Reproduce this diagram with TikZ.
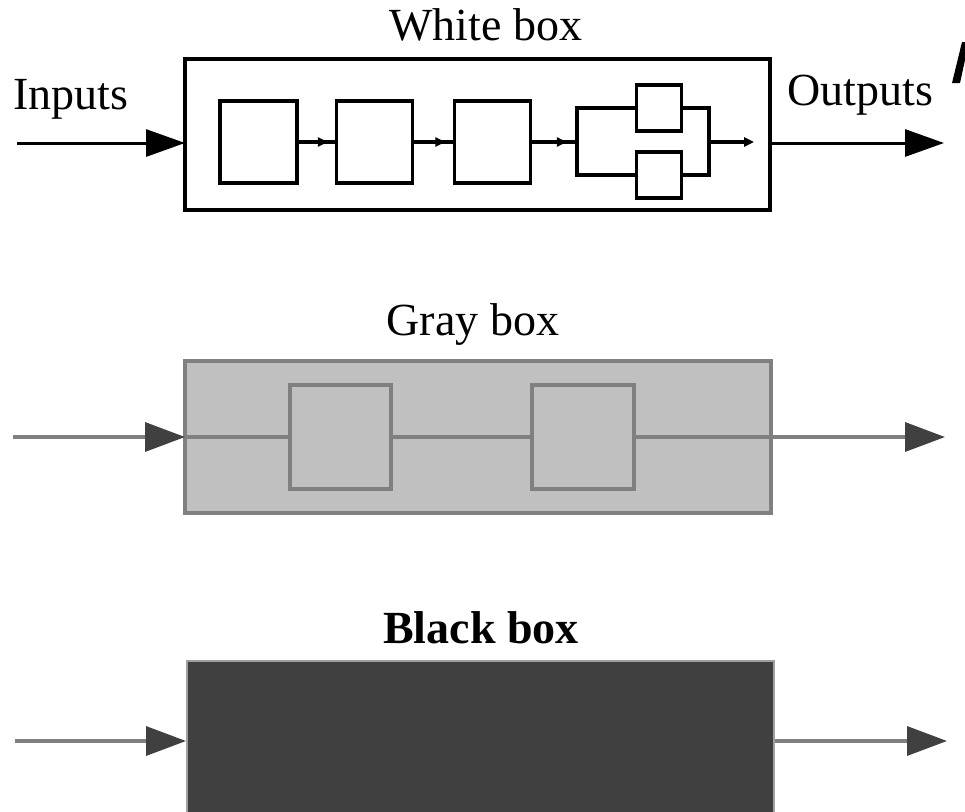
\documentclass[tikz,border=0pt]{standalone}
\usepackage{fontspec}
\setmainfont{Liberation Serif}
\usetikzlibrary{arrows.meta,decorations.markings}
\definecolor{gfill}{HTML}{C0C0C0}
\definecolor{gline}{HTML}{808080}
\definecolor{dhead}{HTML}{404040}
\definecolor{bfill}{HTML}{404040}
\definecolor{bedge}{HTML}{A0A0A0}
\tikzset{
  lbl/.style={font=\fontsize{46}{50}\selectfont, inner sep=0pt, anchor=base},
  wouter/.style={draw=black, line width=4pt, fill=white, inner sep=0pt, outer sep=0pt},
  wblock/.style={draw=black, line width=3.5pt, fill=white, inner sep=0pt, outer sep=0pt},
  wline/.style={draw=black, line width=3.2pt},
  midtip/.style={postaction={decorate}, decoration={markings,
      mark=at position 0.78 with {\arrow{Triangle[length=10pt,width=9pt]}}}},
  bigarrow/.style={line width=3pt, -{Triangle[length=39pt,width=27pt]}},
  grayarrow/.style={draw=gline, line width=3.5pt, -{Triangle[length=40pt,width=29pt,color=dhead]}},
  gouter/.style={draw=gline, line width=4.5pt, fill=gfill, inner sep=0pt, outer sep=0pt},
  gblock/.style={draw=gline, line width=4pt, fill=gfill, inner sep=0pt, outer sep=0pt},
}
\begin{document}
\begin{tikzpicture}[x=1pt,y=-1pt]
\useasboundingbox (0,0) rectangle (965,811);

% ---------- white box ----------
\node[lbl] (wtitle) at (486,40) {White box};
\node[lbl, anchor=base west] (inlbl) at (13,109) {Inputs};
\node[lbl, anchor=base west] (outlbl) at (787,105) {Outputs};

\node[wouter, minimum width=585pt, minimum height=151pt] (wb) at (477.5,134.5) {};
\node[wblock, minimum width=77pt, minimum height=82pt] (w1) at (258.5,142) {};
\node[wblock, minimum width=76pt, minimum height=82pt] (w2) at (374.5,142) {};
\node[wblock, minimum width=76pt, minimum height=82pt] (w3) at (492.5,142) {};
\node[wblock, minimum width=45pt, minimum height=46pt] (wt) at (659,108) {};
\node[wblock, minimum width=45pt, minimum height=46pt] (wd) at (659,175) {};
\coordinate (split) at (577,142);
\coordinate (join) at (709,142);
\coordinate (wend) at (754,142);

\draw[wline, midtip] (w1.east) -- (w2.west);
\draw[wline, midtip] (w2.east) -- (w3.west);
\draw[wline, midtip] (w3.east) -- (split);
\draw[wline, line join=miter] (wt.west) -| (split) |- (wd.west);
\draw[wline, line join=miter] (wt.east) -| (join) |- (wd.east);
\draw[wline, -{Triangle[length=10pt,width=9pt]}] (join) -- (wend);

\coordinate (win) at (17,143);
\coordinate (wout) at (944,143);
\draw[bigarrow] (win) -- (win -| wb.west);
\draw[bigarrow] (wout -| wb.east) -- (wout);

% fragment of a glyph at the right edge
\fill[black] (952,83) -- (960,83) -- (965,60) -- (965,42) -- (962,42) -- cycle;

% ---------- gray box ----------
\node[lbl] (gtitle) at (473,335) {Gray box};
\node[gouter, minimum width=586pt, minimum height=152pt] (gb) at (478,437) {};
\node[gblock, minimum width=101pt, minimum height=104pt] (g1) at (340.5,437) {};
\node[gblock, minimum width=102pt, minimum height=104pt] (g2) at (583,437) {};
\draw[draw=gline, line width=4pt] (gb.west) -- (g1.west);
\draw[draw=gline, line width=4pt] (g1.east) -- (g2.west);
\draw[draw=gline, line width=4pt] (g2.east) -- (gb.east);

\coordinate (gin) at (13,437);
\coordinate (gout) at (945,437);
\draw[grayarrow] (gin) -- (gin -| gb.west);
\draw[grayarrow] (gout -| gb.east) -- (gout);

% ---------- black box ----------
\node[lbl, font=\fontsize{46}{50}\selectfont\bfseries] (btitle) at (481,643) {Black box};
\path[fill=bfill, draw=bedge, line width=2pt] (187,661) rectangle (774,815);
\coordinate (bbw) at (186,741);
\coordinate (bbe) at (775,741);
\coordinate (bin) at (15,741);
\coordinate (bout) at (947,741);
\draw[grayarrow] (bin) -- (bbw);
\draw[grayarrow] (bbe) -- (bout);
\end{tikzpicture}
\end{document}
